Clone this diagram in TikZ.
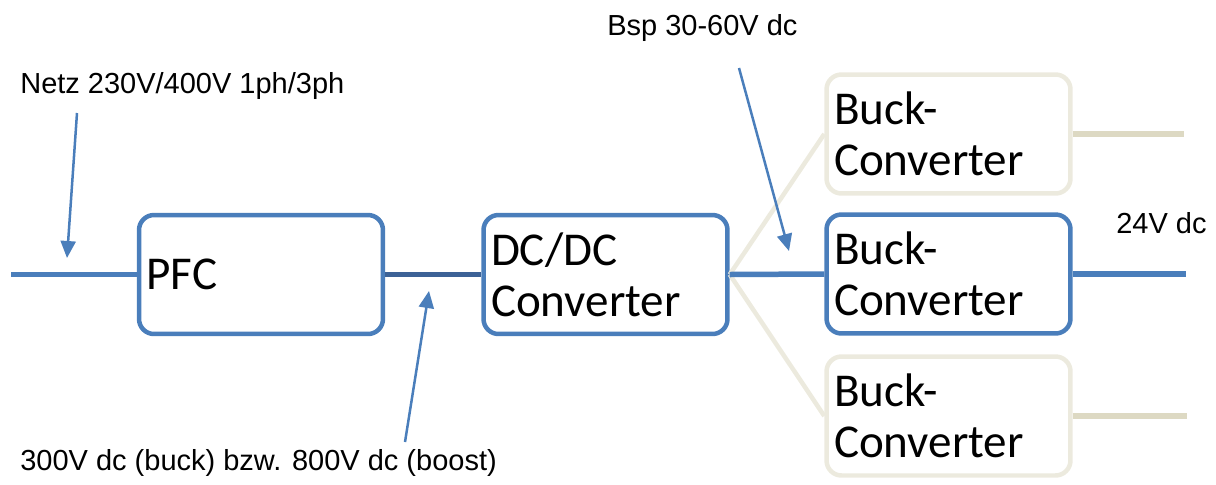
\documentclass[tikz,border=0pt]{standalone}
\usepackage{fontspec}
\setmainfont{Carlito}
\newfontfamily\labelfont{Liberation Sans}
\usepackage{tikz}
\usetikzlibrary{arrows.meta}
\definecolor{boxblue}{RGB}{74,126,187}
\definecolor{darkblue}{RGB}{60,98,150}
\definecolor{paleframe}{RGB}{236,234,222}
\definecolor{stubbeige}{RGB}{221,217,195}

\begin{document}
\begin{tikzpicture}[x=0.02cm, y=-0.02cm]

		\tikzset{
			block/.style={
				draw=#1, line width=0.09cm, rounded corners=0.3cm, fill=white,
				minimum width=4.88cm, minimum height=2.38cm, inner xsep=0.15cm,
				text width=4.58cm, align=left, font=\fontsize{26.8}{29}\selectfont
			},
			note/.style={font=\labelfont\fontsize{16.5}{19}\selectfont, inner sep=0pt, anchor=base west},
			wire/.style={line width=0.11cm, #1},
			pointer/.style={boxblue, line width=0.05cm, -{Triangle[length=0.34cm, width=0.3cm]}}
		}

		\useasboundingbox (0,0) rectangle (1216,484);

		% blocks

		\node[block=boxblue] (pfc) at (261,274.5) {PFC};
		\node[block=boxblue] (dcdc) at (605.5,274.5) {DC/DC\\Converter};
		\node[block=paleframe] (bucktop) at (948.5,134) {Buck-\\Converter};
		\node[block=boxblue] (buckmid) at (948.5,274) {Buck-\\Converter};
		\node[block=paleframe] (buckbot) at (948.5,416) {Buck-\\Converter};

		% wiring

		\coordinate (mains) at (11,274.5);
		\coordinate (outmid) at (1186,274);
		\coordinate (outtop) at (1184,134);
		\coordinate (outbot) at (1187,416);

		\draw[wire=boxblue] (mains) -- (pfc.west);
		\draw[wire=darkblue] (pfc.east) -- (dcdc.west);
		\draw[line width=0.09cm, paleframe] (dcdc.east) -- (bucktop.west);
		\draw[line width=0.09cm, paleframe] (dcdc.east) -- (buckbot.west);
		\draw[wire=boxblue] (dcdc.east) -- (buckmid.west);
		\draw[wire=boxblue] (buckmid.east) -- (outmid);
		\draw[wire=stubbeige] (bucktop.east) -- (outtop);
		\draw[wire=stubbeige] (buckbot.east) -- (outbot);

		% markings and text

		\node[note] (netz) at (20,93) {Netz 230V/400V 1ph/3ph};
		\node[note] (bus) at (20,470) {300V dc (buck) bzw. 800V dc (boost)};
		\node[note] (bsp) at (607,35) {Bsp 30-60V dc};
		\node[note] (out) at (1116,233) {24V dc};

		\coordinate (netzTail) at (77,113);
		\coordinate (netzTip) at (67,258);
		\coordinate (busTail) at (405,442);
		\coordinate (busTip) at (429,291);
		\coordinate (bspTail) at (739,68);
		\coordinate (bspTip) at (789,251);

		\draw[pointer] (netzTail) -- (netzTip);
		\draw[pointer] (busTail) -- (busTip);
		\draw[pointer] (bspTail) -- (bspTip);

\end{tikzpicture}
\end{document}
